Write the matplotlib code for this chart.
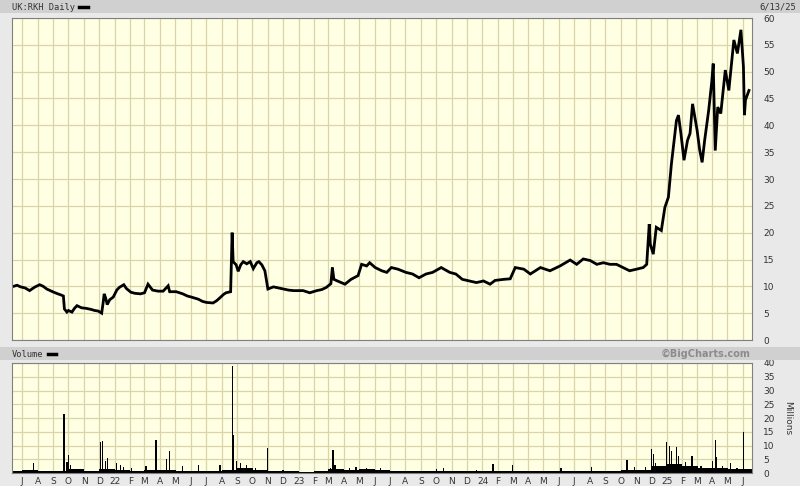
import matplotlib
matplotlib.use('Agg')
import matplotlib.pyplot as plt
from matplotlib.patches import Rectangle
import numpy as np
import pandas as pd

# daily price (GBp)
price_dates = [
    '2021-06-14', '2021-06-21', '2021-06-28', '2021-07-07', '2021-07-16', '2021-07-22', '2021-07-27',
    '2021-08-05', '2021-08-12', '2021-08-19', '2021-08-26', '2021-09-02', '2021-09-10', '2021-09-16',
    '2021-09-21', '2021-09-23', '2021-09-28', '2021-10-01', '2021-10-08', '2021-10-13', '2021-10-18',
    '2021-10-27', '2021-11-05', '2021-11-15', '2021-11-22', '2021-11-29', '2021-12-06', '2021-12-09',
    '2021-12-11', '2021-12-14', '2021-12-17', '2021-12-22', '2021-12-29', '2022-01-05', '2022-01-10',
    '2022-01-19', '2022-01-24', '2022-02-02', '2022-02-10', '2022-02-21', '2022-03-01', '2022-03-08',
    '2022-03-17', '2022-03-28', '2022-04-07', '2022-04-17', '2022-04-20', '2022-05-03', '2022-05-16',
    '2022-05-25', '2022-06-02', '2022-06-16', '2022-06-24', '2022-07-02', '2022-07-15', '2022-07-22',
    '2022-07-28', '2022-08-05', '2022-08-10', '2022-08-19', '2022-08-22', '2022-08-24', '2022-08-30',
    '2022-09-03', '2022-09-08', '2022-09-13', '2022-09-20', '2022-09-27', '2022-10-03', '2022-10-10',
    '2022-10-14', '2022-10-20', '2022-10-26', '2022-11-01', '2022-11-12', '2022-11-22', '2022-12-02',
    '2022-12-12', '2022-12-22', '2023-01-10', '2023-01-23', '2023-02-06', '2023-02-16', '2023-02-25',
    '2023-03-06', '2023-03-09', '2023-03-12', '2023-03-19', '2023-04-03', '2023-04-15', '2023-04-29',
    '2023-05-06', '2023-05-16', '2023-05-22', '2023-06-02', '2023-06-15', '2023-06-25', '2023-07-04',
    '2023-07-17', '2023-08-02', '2023-08-15', '2023-08-28', '2023-09-11', '2023-09-24', '2023-10-11',
    '2023-10-28', '2023-11-09', '2023-11-22', '2023-12-06', '2023-12-20', '2024-01-03', '2024-01-16',
    '2024-01-26', '2024-02-12', '2024-02-25', '2024-03-06', '2024-03-23', '2024-04-05', '2024-04-25',
    '2024-05-14', '2024-06-03', '2024-06-23', '2024-07-06', '2024-07-19', '2024-08-02', '2024-08-15',
    '2024-08-28', '2024-09-10', '2024-09-23', '2024-10-06', '2024-10-19', '2024-11-02', '2024-11-15',
    '2024-11-22', '2024-11-27', '2024-11-29', '2024-12-05', '2024-12-11', '2024-12-21', '2024-12-28',
    '2025-01-04', '2025-01-10', '2025-01-17', '2025-01-20', '2025-01-24', '2025-01-29', '2025-02-04',
    '2025-02-11', '2025-02-16', '2025-02-21', '2025-03-02', '2025-03-07', '2025-03-12', '2025-03-17',
    '2025-03-25', '2025-03-31', '2025-04-03', '2025-04-07', '2025-04-12', '2025-04-18', '2025-04-27',
    '2025-05-04', '2025-05-14', '2025-05-21', '2025-05-28', '2025-06-02', '2025-06-04', '2025-06-06',
    '2025-06-13',
]
price_vals = [
    10.0, 10.2, 9.9, 9.7, 9.2, 9.6, 9.9,
    10.3, 10.0, 9.5, 9.2, 8.9, 8.6, 8.4,
    8.2, 5.8, 5.2, 5.5, 5.2, 5.9, 6.4,
    6.0, 5.9, 5.7, 5.5, 5.4, 5.0, 7.0,
    8.6, 7.8, 6.6, 7.5, 8.0, 9.3, 9.8,
    10.3, 9.6, 8.9, 8.7, 8.6, 8.8, 10.4,
    9.3, 9.1, 9.1, 10.1, 9.0, 9.0, 8.6,
    8.2, 8.0, 7.6, 7.2, 7.0, 6.9, 7.3,
    7.8, 8.5, 8.8, 9.0, 20.0, 14.6, 14.0,
    12.8, 14.0, 14.6, 14.2, 14.6, 13.3, 14.4,
    14.6, 14.0, 12.9, 9.5, 9.9, 9.7, 9.5,
    9.3, 9.2, 9.2, 8.8, 9.2, 9.4, 9.8,
    10.5, 13.5, 11.3, 11.0, 10.4, 11.3, 12.0,
    14.1, 13.8, 14.4, 13.5, 12.9, 12.6, 13.5,
    13.2, 12.6, 12.3, 11.6, 12.3, 12.6, 13.5,
    12.6, 12.3, 11.3, 11.0, 10.7, 11.0, 10.4,
    11.1, 11.3, 11.4, 13.5, 13.2, 12.3, 13.5,
    12.9, 13.8, 14.9, 14.1, 15.1, 14.8, 14.1,
    14.4, 14.1, 14.1, 13.5, 12.9, 13.2, 13.5,
    14.1, 21.6, 17.9, 16.0, 21.0, 20.4, 24.7,
    26.6, 32.8, 38.4, 40.9, 41.9, 38.4, 33.5,
    37.2, 38.5, 44.0, 39.1, 35.5, 33.1, 37.2,
    42.8, 48.0, 51.5, 35.3, 43.4, 42.2, 50.3,
    46.5, 55.9, 53.4, 57.8, 50.9, 41.9, 44.7,
    46.5,
]

# typical daily volume per month (millions)
base_months = pd.date_range('2021-06-01', '2025-06-01', freq='MS')
base_vol = [
    0.9, 1.0, 0.8, 0.9, 1.6, 0.8, 1.6,
    1.1, 0.9, 1.1, 1.1, 0.9, 0.8, 0.8, 1.1, 1.9, 1.1, 0.9, 0.6,
    0.5, 0.6, 1.3, 1.1, 1.3, 1.0, 0.7, 0.6, 0.7, 0.9, 0.7, 0.7,
    0.8, 0.8, 0.9, 0.8, 0.7, 0.8, 0.8, 0.7, 0.7, 1.0, 1.1, 2.6,
    3.2, 2.4, 1.8, 2.0, 1.5, 1.4,
]

# single high-volume days (millions)
spike_dates = [
    '2021-07-23', '2021-09-22', '2021-09-28', '2021-10-01', '2021-10-05', '2021-12-03', '2021-12-08',
    '2021-12-14', '2021-12-17', '2022-01-04', '2022-01-12', '2022-01-19', '2022-02-03', '2022-03-04',
    '2022-03-24', '2022-04-14', '2022-04-19', '2022-05-16', '2022-06-16', '2022-07-29', '2022-08-22',
    '2022-08-24', '2022-08-31', '2022-09-07', '2022-09-20', '2022-10-07', '2022-10-31', '2022-12-01',
    '2023-03-06', '2023-03-10', '2023-03-14', '2023-04-12', '2023-04-25', '2023-05-15', '2023-06-12',
    '2023-10-02', '2023-10-16', '2023-12-20', '2024-01-22', '2024-03-01', '2024-06-05', '2024-08-05',
    '2024-10-14', '2024-10-29', '2024-11-20', '2024-12-02', '2024-12-05', '2024-12-10', '2024-12-31',
    '2025-01-06', '2025-01-10', '2025-01-20', '2025-01-24', '2025-02-07', '2025-02-20', '2025-03-10',
    '2025-04-01', '2025-04-07', '2025-04-10', '2025-04-22', '2025-05-07', '2025-05-20', '2025-06-02',
]
spike_vals = [
    3.8, 21.5, 4.0, 6.5, 3.0, 11.2, 11.8,
    4.5, 5.3, 3.5, 3.0, 2.2, 2.0, 2.5,
    11.9, 5.0, 7.9, 2.7, 2.9, 2.9, 38.8,
    13.7, 4.5, 3.5, 3.0, 2.0, 9.1, 1.2,
    2.0, 8.4, 3.0, 2.0, 2.2, 1.8, 2.0,
    1.6, 1.7, 1.2, 3.2, 2.9, 2.0, 2.1,
    4.8, 2.3, 2.3, 8.8, 7.0, 3.7, 11.2,
    10.0, 8.0, 9.4, 6.2, 4.0, 6.3, 2.5,
    4.3, 11.9, 6.0, 2.5, 3.7, 2.0, 14.9,
]

month_starts = pd.date_range('2021-07-01', '2025-06-01', freq='MS')
month_labels = [
    'J', 'A', 'S', 'O', 'N', 'D',
    '22', 'F', 'M', 'A', 'M', 'J', 'J', 'A', 'S', 'O', 'N', 'D',
    '23', 'F', 'M', 'A', 'M', 'J', 'J', 'A', 'S', 'O', 'N', 'D',
    '24', 'F', 'M', 'A', 'M', 'J', 'J', 'A', 'S', 'O', 'N', 'D',
    '25', 'F', 'M', 'A', 'M', 'J',
]

W, H = 800, 486
BG = '#e9e9e9'
PLOT_BG = '#ffffe3'
GRID = '#d9d5a9'
BAR = '#d0d0d0'
TXT = '#333333'
xlim = (pd.Timestamp('2021-06-11'), pd.Timestamp('2025-06-19'))


def fig_rect(x0, y0, x1, y1):
    # pixel box (top-left origin) -> figure fraction [l, b, w, h]
    return [x0 / W, 1 - y1 / H, (x1 - x0) / W, (y1 - y0) / H]


def style_axes(ax):
    ax.set_facecolor(PLOT_BG)
    ax.set_xlim(*xlim)
    ax.set_xticks(month_starts)
    ax.grid(True, color=GRID, linewidth=0.9)
    ax.set_axisbelow(True)
    for s in ax.spines.values():
        s.set_color('#808080')
        s.set_linewidth(0.8)
    ax.yaxis.tick_right()
    ax.tick_params(length=0, labelsize=6.5, labelcolor=TXT, pad=8)


def header_label(fig, text, x_px, y_px):
    # label followed by a short black legend dash
    t = fig.text(x_px / W, 1 - y_px / H, text, fontsize=6.3, family='DejaVu Sans Mono',
                 color=TXT, va='center', ha='left')
    fig.canvas.draw()
    bb = t.get_window_extent()
    x0 = bb.x1 / W + 4 / W
    fig.add_artist(plt.Line2D([x0, x0 + 9 / W], [1 - y_px / H] * 2, color='black', lw=2.5))


fig = plt.figure(figsize=(W / 100, H / 100), dpi=100, facecolor=BG)

# header bars
fig.patches.append(Rectangle((0, 1 - 13 / H), 1, 13 / H, transform=fig.transFigure,
                             facecolor=BAR, edgecolor='none', zorder=0))
fig.patches.append(Rectangle((0, 1 - 360 / H), 1, 13 / H, transform=fig.transFigure,
                             facecolor=BAR, edgecolor='none', zorder=0))
header_label(fig, 'UK:RKH Daily', 12, 7)
header_label(fig, 'Volume', 12, 354)
fig.text(796 / W, 1 - 7 / H, '6/13/25', fontsize=6.3, family='DejaVu Sans Mono',
         color=TXT, va='center', ha='right')
fig.text(751 / W, 1 - 354 / H, '\u00a9BigCharts.com', fontsize=7, fontweight='bold',
         color='#8c8c8c', va='center', ha='right')

# price panel
ax1 = fig.add_axes(fig_rect(12, 18, 752, 340))
style_axes(ax1)
ax1.plot(pd.to_datetime(price_dates), price_vals, color='black', lw=2.0, solid_joinstyle='miter')
ax1.set_ylim(0, 60)
ax1.set_yticks(np.arange(0, 61, 5))
ax1.tick_params(axis='x', labelbottom=False)

# volume panel
ax2 = fig.add_axes(fig_rect(12, 363, 752, 473))
style_axes(ax2)
ax2.bar(base_months, base_vol, width=31, align='edge', color='black', linewidth=0)
ax2.bar(pd.to_datetime(spike_dates), spike_vals, width=2.5, color='black', linewidth=0)
ax2.set_ylim(0, 40)
ax2.set_yticks(np.arange(0, 41, 5))
ax2.set_xticklabels(month_labels)
ax2.tick_params(axis='x', pad=3, labelsize=6.5)
ax2.set_xlim(*xlim)
fig.text(788 / W, 1 - 418 / H, 'Millions', rotation=270, fontsize=6.5, color=TXT,
         va='center', ha='center')

fig.savefig('out.png', dpi=100, facecolor=BG)
